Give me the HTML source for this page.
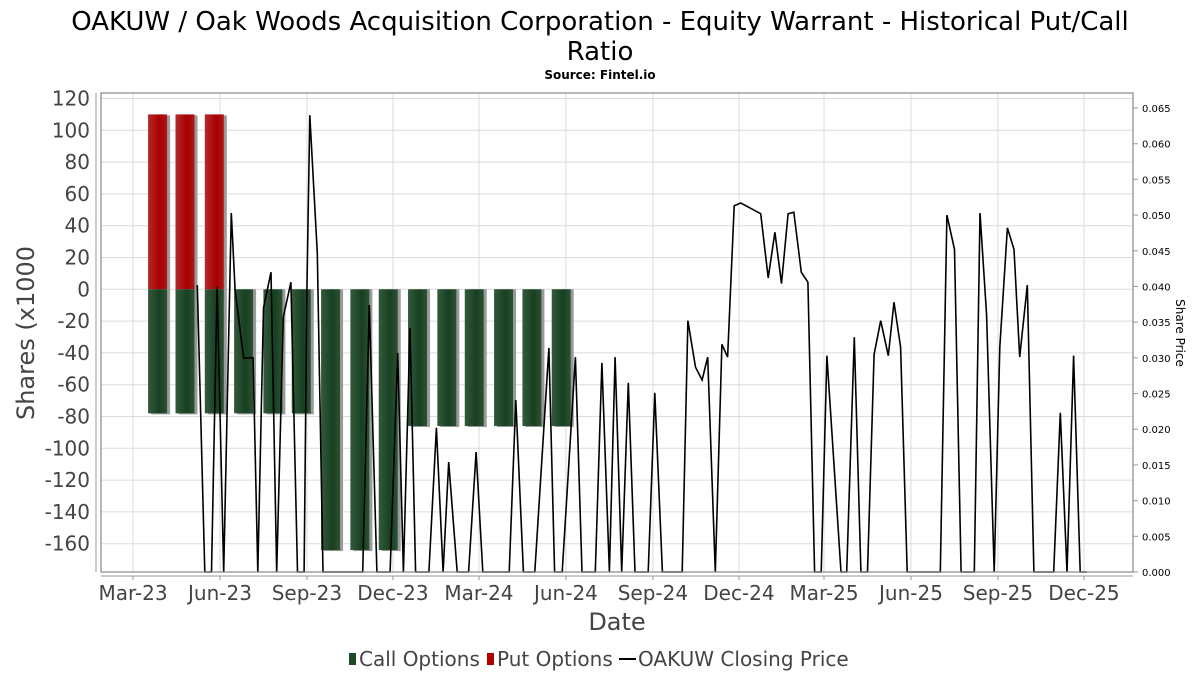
<!DOCTYPE html>
<html><head><meta charset="utf-8">
<style>
html,body{margin:0;padding:0;background:#fff;}
svg text{font-family:"DejaVu Sans","Liberation Sans",sans-serif;}
</style></head>
<body>
<svg id="chart" width="1200" height="675" viewBox="0 0 1200 675" xmlns="http://www.w3.org/2000/svg">
<defs>
<linearGradient id="gPut" x1="0" x2="1" y1="0" y2="0">
<stop offset="0" stop-color="#b42a2a"/><stop offset="0.6" stop-color="#a80000"/><stop offset="1" stop-color="#b01515"/>
</linearGradient>
<linearGradient id="gCall" x1="0" x2="1" y1="0" y2="0">
<stop offset="0" stop-color="#345a3c"/><stop offset="0.6" stop-color="#173f20"/><stop offset="1" stop-color="#2c5234"/>
</linearGradient>
</defs>
<text x="600" y="30" text-anchor="middle" font-size="26" fill="#000">OAKUW / Oak Woods Acquisition Corporation - Equity Warrant - Historical Put/Call</text>
<text x="600" y="60" text-anchor="middle" font-size="26" fill="#000">Ratio</text>
<text x="600" y="79" text-anchor="middle" font-size="12" font-weight="bold" fill="#000">Source: Fintel.io</text>
<g id="grid"></g>
<g id="bars"></g>
<g id="line"></g>
<rect x="101" y="93" width="1032" height="479" fill="none" stroke="#888" stroke-width="1.2"/>
<g id="axes"></g>
<text transform="translate(34,333) rotate(-90)" text-anchor="middle" font-size="24" fill="#444">Shares (x1000</text>
<text transform="translate(1176,333) rotate(90)" text-anchor="middle" font-size="12" fill="#000">Share Price</text>
<text x="617" y="630" text-anchor="middle" font-size="24" fill="#444">Date</text>
<g>
<rect x="349" y="653" width="7" height="12" fill="#1f4a28"/>
<text x="359" y="666" font-size="20" fill="#444">Call Options</text>
<rect x="487" y="653" width="7" height="12" fill="#b00000"/>
<text x="497" y="666" font-size="20" fill="#444">Put Options</text>
<line x1="619" y1="659" x2="636" y2="659" stroke="#000" stroke-width="2"/>
<text x="638" y="666" font-size="20" fill="#444">OAKUW Closing Price</text>
</g>
</svg>
<script>
// Monthly option bars (dates) and values (x1000 shares)
const barDates = ["2023-03-27","2023-04-25","2023-05-26","2023-06-26","2023-07-27","2023-08-26","2023-09-26","2023-10-27","2023-11-26","2023-12-27","2024-01-27","2024-02-25","2024-03-27","2024-04-26","2024-05-27"];
const putValues = [110,110,110,0,0,0,0,0,0,0,0,0,0,0,0];
const callValues = [-78,-78,-78,-78,-78,-78,-164,-164,-164,-86,-86,-86,-86,-86,-86];
// Share price: days since 2023-03-01 and closing price
const priceDays = [68,76,83,89,96,104,108,117,127,132,138,146,152,159,167,174,181,184,187,195,201,229,243,250,258,272,280,286,293,299,313,321,328,334,343,355,363,370,398,405,413,425,440,446,454,468,475,489,496,504,510,517,524,531,545,552,560,581,587,595,602,608,616,623,629,636,643,664,672,679,686,693,699,707,714,721,728,734,749,755,763,770,777,784,791,799,805,812,819,854,861,869,876,890,896,903,911,917,925,932,938,946,953,974,981,988,995,1002,1009];
const priceValues = [0.0402,0,0,0.040,0,0.0503,0.0395,0.030,0.030,0,0.037,0.042,0,0.0357,0.0406,0,0,0.0395,0.064,0.0447,0,0,0,0.0374,0,0,0.0307,0,0.0342,0,0,0.0202,0,0.0154,0,0,0.0168,0,0,0.0241,0,0,0.0314,0,0,0.0301,0,0,0.0293,0,0.0301,0,0.0265,0,0,0.0251,0,0,0.0352,0.0287,0.0269,0.0301,0,0.0319,0.0301,0.0513,0.0517,0.0502,0.0412,0.0476,0.0404,0.0502,0.0504,0.042,0.0406,0,0,0.0303,0,0,0.0329,0,0,0.0305,0.0352,0.0303,0.0378,0.0315,0,0,0.050,0.0452,0,0,0.0503,0.036,0,0.0315,0.0482,0.0452,0.0301,0.0402,0,0,0.0223,0,0.0303,0,0];
const yTicks = [120,100,80,60,40,20,0,-20,-40,-60,-80,-100,-120,-140,-160];
const y2Ticks = [0,0.005,0.01,0.015,0.02,0.025,0.03,0.035,0.04,0.045,0.05,0.055,0.06,0.065];
const xTickLabels = ["Mar-23","Jun-23","Sep-23","Dec-23","Mar-24","Jun-24","Sep-24","Dec-24","Mar-25","Jun-25","Sep-25","Dec-25"];
const xTickDates = ["2023-03-01","2023-06-01","2023-09-01","2023-12-01","2024-03-01","2024-06-01","2024-09-01","2024-12-01","2025-03-01","2025-06-01","2025-09-01","2025-12-01"];

const NS="http://www.w3.org/2000/svg";
const T0=Date.UTC(2023,2,1);
function dayOf(s){const p=s.split("-");return (Date.UTC(+p[0],+p[1]-1,+p[2])-T0)/86400000;}
function xd(d){return 133+d*0.9453;}
function y(v){return 289.3-v*1.59;}
function y2(v){return 572-v*7138;}
function mk(tag,attrs,parent){const e=document.createElementNS(NS,tag);for(const k in attrs)e.setAttribute(k,attrs[k]);parent.appendChild(e);return e;}
const grid=document.getElementById("grid"),axes=document.getElementById("axes"),bars=document.getElementById("bars"),line=document.getElementById("line");

yTicks.forEach(v=>{
  const g=mk("line",{x1:101,x2:1133,y1:y(v),y2:y(v),stroke:"#dcdcdc","stroke-width":1},grid);
  
  
  const t=mk("text",{x:90,y:y(v)+7,"text-anchor":"end","font-size":20,fill:"#444"},axes);
  t.textContent=v;
  
  
});
mk("line",{x1:96,x2:96,y1:93,y2:572,stroke:"#999"},axes);
y2Ticks.forEach(v=>{
  const tk=mk("line",{x1:1133,x2:1138,y1:y2(v),y2:y2(v),stroke:"#999"},axes);
  
  
  const t=mk("text",{x:1142,y:y2(v)+4,"font-size":10,fill:"#000"},axes);
  t.textContent=v.toFixed(3);
  
  
});
xTickDates.forEach((s,i)=>{
  const x=xd(dayOf(s));
  const g=mk("line",{x1:x,x2:x,y1:93,y2:572,stroke:"#dcdcdc"},grid);
  
  
  mk("line",{x1:x,x2:x,y1:576,y2:580,stroke:"#999"},axes);
  const t=mk("text",{x:x,y:600,"text-anchor":"middle","font-size":20,fill:"#444"},axes);
  t.textContent=xTickLabels[i];
  
  
});
mk("line",{x1:101,x2:1133,y1:576,y2:576,stroke:"#999"},axes);

barDates.forEach((s,i)=>{
  const cx=xd(dayOf(s)), x=cx-9.5, w=19;
  if(putValues[i]>0){
    mk("rect",{x:x+3,y:y(putValues[i])+1,width:w,height:y(0)-y(putValues[i]),fill:"#9a9a9a"},bars);
    const r=mk("rect",{x:x,y:y(putValues[i]),width:w,height:y(0)-y(putValues[i]),fill:"url(#gPut)"},bars);
    
    
  }
  if(callValues[i]<0){
    mk("rect",{x:x+3,y:y(0),width:w,height:y(callValues[i])-y(0)+1,fill:"#9a9a9a"},bars);
    const r=mk("rect",{x:x,y:y(0),width:w,height:y(callValues[i])-y(0),fill:"url(#gCall)"},bars);
    
    
  }
});
const pts=priceDays.map((d,i)=>xd(d).toFixed(1)+","+y2(priceValues[i]).toFixed(1)).join(" ");
const pl=mk("polyline",{points:pts,fill:"none",stroke:"#000","stroke-width":1.6,"stroke-linejoin":"miter"},line);


</script>
</body></html>
